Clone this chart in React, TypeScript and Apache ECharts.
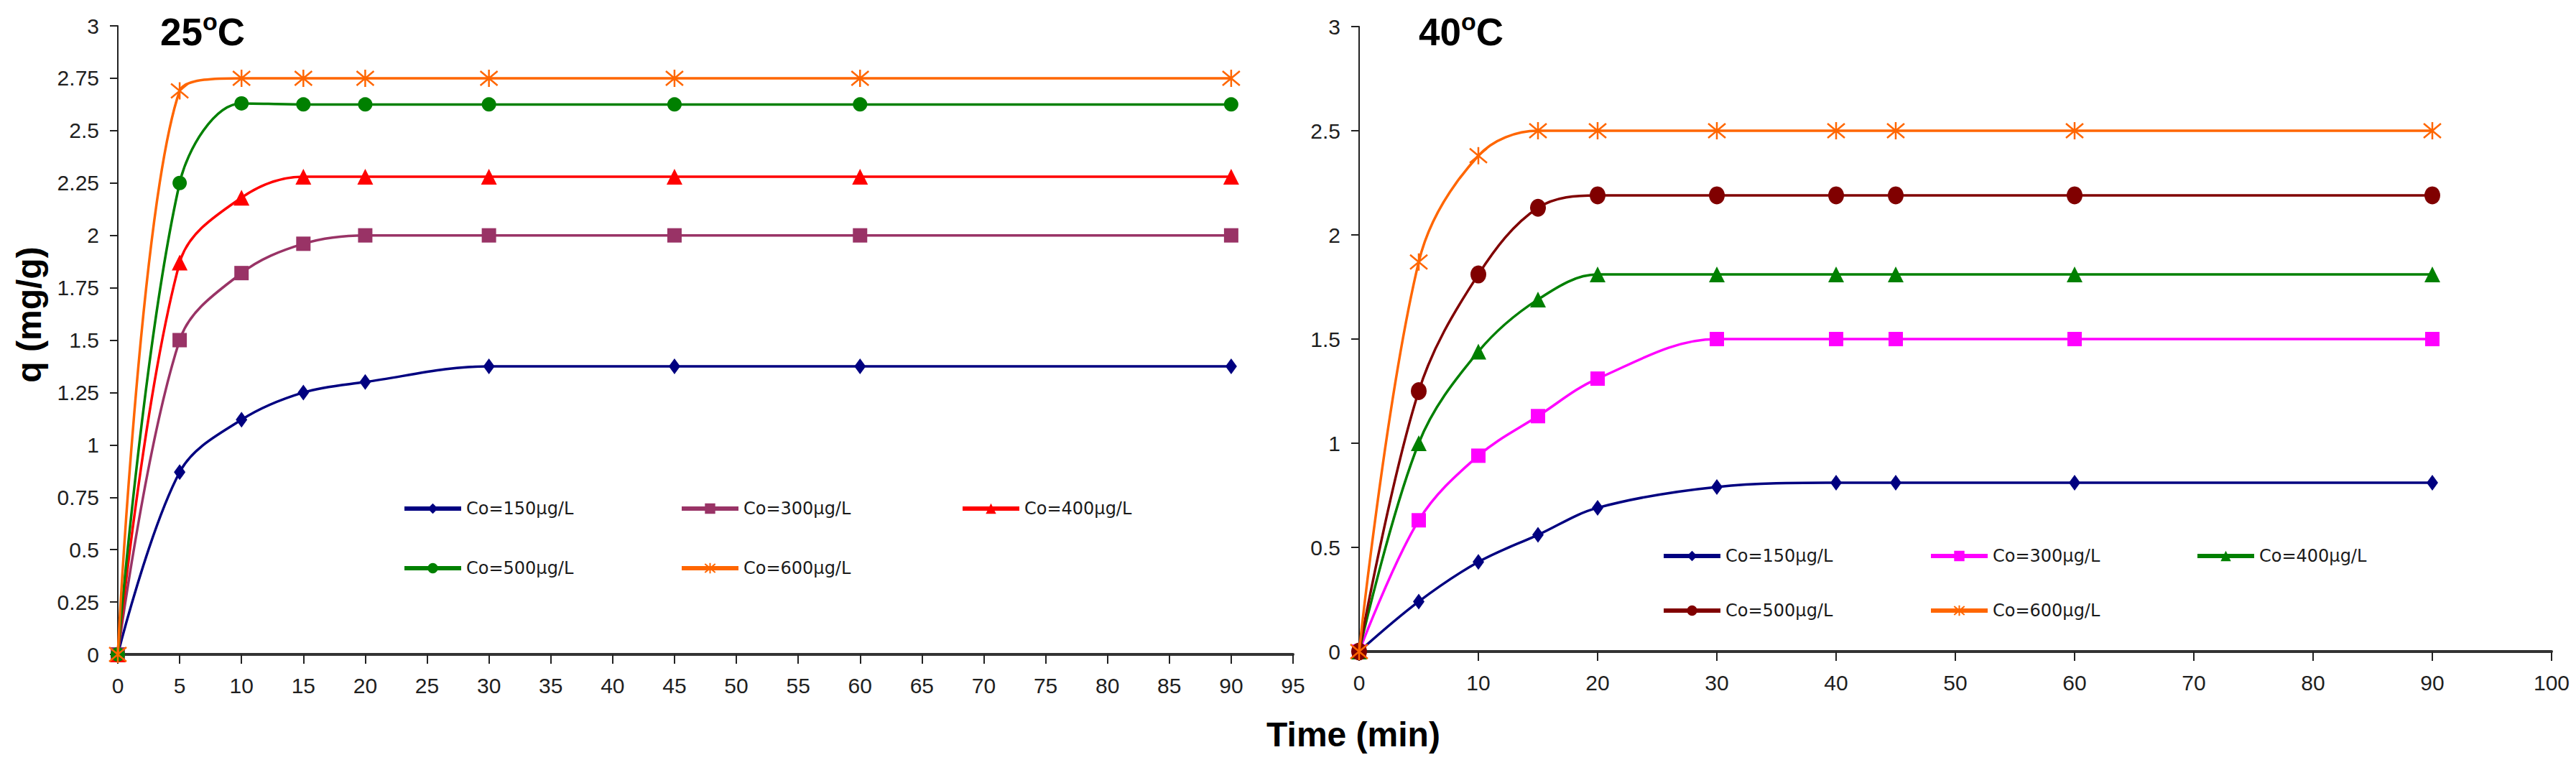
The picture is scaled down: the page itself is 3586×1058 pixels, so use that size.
import * as echarts from "echarts";
import { useEffect, useRef } from "react";

// 25 oC panel
const timeLeft = [0, 5, 10, 15, 20, 30, 45, 60, 90];
const left150 = [0, 0.87, 1.12, 1.25, 1.3, 1.375, 1.375, 1.375, 1.375];
const left300 = [0, 1.5, 1.82, 1.96, 2.0, 2.0, 2.0, 2.0, 2.0];
const left400 = [0, 1.87, 2.18, 2.28, 2.28, 2.28, 2.28, 2.28, 2.28];
const left500 = [0, 2.25, 2.63, 2.625, 2.625, 2.625, 2.625, 2.625, 2.625];
const left600 = [0, 2.69, 2.75, 2.75, 2.75, 2.75, 2.75, 2.75, 2.75];

// 40 oC panel
const timeRight = [0, 5, 10, 15, 20, 30, 40, 45, 60, 90];
const right150 = [0, 0.24, 0.43, 0.56, 0.69, 0.79, 0.81, 0.81, 0.81, 0.81];
const right300 = [0, 0.63, 0.94, 1.13, 1.31, 1.5, 1.5, 1.5, 1.5, 1.5];
const right400 = [0, 1.0, 1.44, 1.69, 1.81, 1.81, 1.81, 1.81, 1.81, 1.81];
const right500 = [0, 1.25, 1.81, 2.13, 2.19, 2.19, 2.19, 2.19, 2.19, 2.19];
const right600 = [0, 1.87, 2.38, 2.5, 2.5, 2.5, 2.5, 2.5, 2.5, 2.5];

const seriesLabels = ["Co=150µg/L", "Co=300µg/L", "Co=400µg/L", "Co=500µg/L", "Co=600µg/L"];

const NARROW = "'Liberation Sans Narrow', 'Liberation Sans', Arial, sans-serif";
const SANS = "'Liberation Sans', Arial, sans-serif";

const ASTERISK = "path://M0,1L10,11M10,1L0,11M5,0L5,12";

const leftStyles = [
  { color: "#000080", symbol: "diamond", size: [16, 22] },
  { color: "#993366", symbol: "rect", size: 20 },
  { color: "#FF0000", symbol: "triangle", size: 22 },
  { color: "#008000", symbol: "circle", size: 20 },
  { color: "#FF6600", symbol: ASTERISK, size: 24 },
];
const rightStyles = [
  { color: "#000080", symbol: "diamond", size: [16, 22] },
  { color: "#FF00FF", symbol: "rect", size: 20 },
  { color: "#008000", symbol: "triangle", size: 22 },
  { color: "#800000", symbol: "circle", size: [22, 25] },
  { color: "#FF6600", symbol: ASTERISK, size: 24 },
];

function makeSeries(
  prefix: string,
  times: number[],
  values: number[][],
  styles: any[],
  axisIndex: number
) {
  return values.map((vals, i) => {
    const st = styles[i];
    const isStar = st.symbol === ASTERISK;
    return {
      name: prefix + i,
      type: "line",
      xAxisIndex: axisIndex,
      yAxisIndex: axisIndex,
      data: times.map((t, j) => [t, vals[j]]),
      smooth: 0.35,
      symbol: st.symbol,
      symbolSize: st.size,
      showAllSymbol: true,
      lineStyle: { color: st.color, width: 3.5 },
      itemStyle: isStar
        ? { color: st.color, borderColor: st.color, borderWidth: 2.5 }
        : { color: st.color, borderWidth: 0 },
      z: 2 + i,
    };
  });
}

function makeLegend(name: string, label: string, left: number, centerY: number) {
  return {
    data: [name],
    formatter: () => label,
    left,
    top: centerY - 13,
    padding: 0,
    itemWidth: 79,
    itemHeight: 18,
    itemGap: 0,
    selectedMode: false,
    lineStyle: { width: 6 },
    textStyle: {
      fontFamily: "'DejaVu Sans', sans-serif",
      fontSize: 24,
      color: "#1a1a1a",
      padding: [0, 0, 0, 2],
    },
  };
}

function titleText(main: string, x: number) {
  return {
    type: "text",
    x,
    y: 13,
    style: {
      text: `{a|${main}}{s|o}{a|C}`,
      verticalAlign: "top",
      fill: "#000",
      rich: {
        a: { fontSize: 53, fontWeight: "bold", fontFamily: NARROW, lineHeight: 62, color: "#000" },
        s: { fontSize: 34, fontWeight: "bold", fontFamily: NARROW, lineHeight: 32, verticalAlign: "top", color: "#000" },
      },
    },
  };
}

function yAxis(gridIndex: number, interval: number) {
  return {
    type: "value",
    gridIndex,
    min: 0,
    max: 3,
    interval,
    splitLine: { show: false },
    axisLine: { show: true, lineStyle: { color: "#222", width: 2 } },
    axisTick: { show: true, length: 11, lineStyle: { color: "#222", width: 2 } },
    axisLabel: { margin: 26, fontFamily: SANS, fontSize: 30, color: "#1f1f1f" },
  };
}

function xAxis(gridIndex: number, max: number, interval: number) {
  return {
    type: "value",
    gridIndex,
    min: 0,
    max,
    interval,
    splitLine: { show: false },
    axisLine: { show: true, onZero: false, lineStyle: { color: "#333", width: 4 } },
    axisTick: { show: true, length: 13, lineStyle: { color: "#222", width: 2 } },
    axisLabel: { margin: 28, fontFamily: SANS, fontSize: 30, color: "#1f1f1f" },
  };
}

export default function App() {
  const chartRef = useRef<HTMLDivElement>(null);

  useEffect(() => {
    if (!chartRef.current) return;
    const chart = echarts.init(chartRef.current, undefined, { renderer: "svg" });

    const leftSeries = makeSeries("L", timeLeft, [left150, left300, left400, left500, left600], leftStyles, 0);
    const rightSeries = makeSeries("R", timeRight, [right150, right300, right400, right500, right600], rightStyles, 1);

    const leftPlaces = [
      [560, 709],
      [946, 709],
      [1337, 709],
      [560, 792],
      [946, 792],
    ];
    const rightPlaces = [
      [2313, 775],
      [2685, 775],
      [3056, 775],
      [2313, 851],
      [2685, 851],
    ];
    const legends = [
      ...leftPlaces.map((p, i) => makeLegend("L" + i, seriesLabels[i], p[0], p[1])),
      ...rightPlaces.map((p, i) => makeLegend("R" + i, seriesLabels[i], p[0], p[1])),
    ];

    chart.setOption({
      animation: false,
      backgroundColor: "#fff",
      grid: [
        { left: 164, top: 36, width: 1636, height: 875 },
        { left: 1892, top: 37, width: 1660, height: 870 },
      ],
      xAxis: [xAxis(0, 95, 5), xAxis(1, 100, 10)],
      yAxis: [yAxis(0, 0.25), yAxis(1, 0.5)],
      legend: legends,
      series: [...leftSeries, ...rightSeries],
      graphic: [
        titleText("25", 223),
        titleText("40", 1975),
        {
          type: "text",
          x: 1884,
          y: 1022,
          style: {
            text: "Time (min)",
            font: `bold 48px ${NARROW}`,
            fill: "#000",
            textAlign: "center",
            verticalAlign: "middle",
          },
        },
        {
          type: "text",
          x: 40,
          y: 438,
          rotation: Math.PI / 2,
          style: {
            text: "q (mg/g)",
            font: `bold 48px ${NARROW}`,
            fill: "#000",
            textAlign: "center",
            verticalAlign: "middle",
          },
        },
      ],
    });

    return () => {
      chart.dispose();
    };
  }, []);

  return (
    <div
      ref={chartRef}
      style={{ position: "fixed", left: 0, top: 0, width: "3586px", height: "1058px" }}
    />
  );
}
